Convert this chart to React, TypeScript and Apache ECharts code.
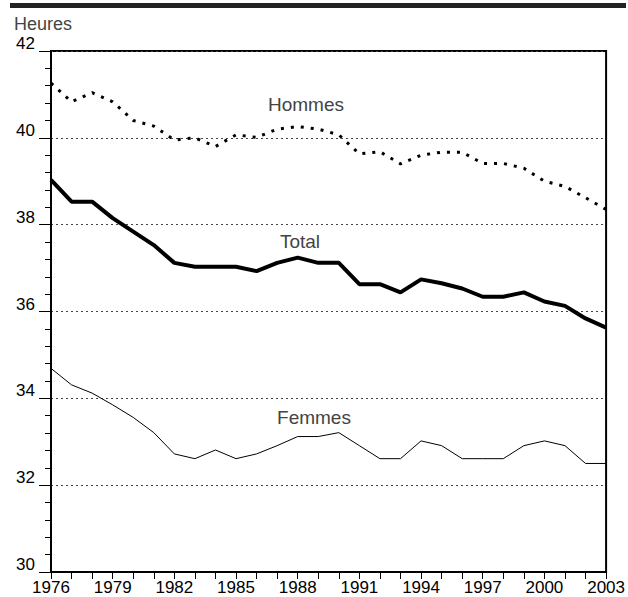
import React, { useEffect, useRef } from "react";
import * as echarts from "echarts";

const years = [
  "1976", "1977", "1978", "1979", "1980", "1981", "1982", "1983", "1984", "1985",
  "1986", "1987", "1988", "1989", "1990", "1991", "1992", "1993", "1994", "1995",
  "1996", "1997", "1998", "1999", "2000", "2001", "2002", "2003",
];

const hommes = [
  41.26, 40.83, 41.04, 40.83, 40.4, 40.27, 39.95, 40.0, 39.8, 40.07,
  40.01, 40.2, 40.26, 40.2, 40.07, 39.63, 39.68, 39.4, 39.6, 39.67,
  39.67, 39.41, 39.41, 39.3, 39.0, 38.88, 38.62, 38.35,
];

const total = [
  39.03, 38.53, 38.53, 38.15, 37.84, 37.53, 37.12, 37.03, 37.03, 37.03,
  36.93, 37.12, 37.24, 37.12, 37.12, 36.63, 36.63, 36.44, 36.74, 36.65,
  36.53, 36.34, 36.34, 36.44, 36.23, 36.13, 35.84, 35.63,
];

const femmes = [
  34.69, 34.31, 34.12, 33.85, 33.56, 33.21, 32.72, 32.61, 32.81, 32.61,
  32.72, 32.91, 33.12, 33.12, 33.21, 32.91, 32.61, 32.61, 33.02, 32.91,
  32.61, 32.61, 32.61, 32.91, 33.02, 32.91, 32.5, 32.5,
];

const yMin = 30;
const yMax = 42;
const yStep = 2;

const FONT = "'Liberation Sans', Arial, sans-serif";

export default function App() {
  const ref = useRef<HTMLDivElement>(null);

  useEffect(() => {
    if (!ref.current) return;
    const chart = echarts.init(ref.current, null, { renderer: "svg" });
    chart.setOption({
      animation: false,
      backgroundColor: "#ffffff",
      grid: {
        left: 51,
        right: 21,
        top: 51,
        bottom: 25,
        show: true,
        borderColor: "#000",
        borderWidth: 2,
        backgroundColor: "transparent",
      },
      xAxis: {
        type: "category",
        data: years,
        boundaryGap: false,
        axisLine: { show: true, lineStyle: { color: "#000", width: 2 } },
        axisTick: {
          show: true,
          interval: 0,
          length: 7,
          inside: false,
          lineStyle: { color: "#000", width: 1 },
        },
        axisLabel: {
          interval: 2,
          margin: 7,
          color: "#000",
          fontSize: 17,
          fontFamily: FONT,
        },
        splitLine: { show: false },
      },
      yAxis: {
        type: "value",
        min: yMin,
        max: yMax,
        interval: yStep,
        axisLine: { show: true, lineStyle: { color: "#000", width: 2 } },
        axisTick: {
          show: true,
          length: 12,
          lineStyle: { color: "#000", width: 1 },
        },
        minorTick: {
          show: true,
          splitNumber: 5,
          length: 6,
          lineStyle: { color: "#000", width: 1 },
        },
        axisLabel: {
          margin: 16,
          color: "#000",
          fontSize: 17,
          lineHeight: 15,
          fontFamily: FONT,
          verticalAlign: "bottom",
        },
        splitLine: {
          show: true,
          lineStyle: { color: "#444", width: 1, type: [2, 3] },
        },
      },
      series: [
        {
          name: "Hommes",
          type: "line",
          data: hommes,
          symbol: "none",
          lineStyle: { color: "#000", width: 3, type: [3, 7] },
        },
        {
          name: "Total",
          type: "line",
          data: total,
          symbol: "none",
          lineStyle: { color: "#000", width: 4 },
        },
        {
          name: "Femmes",
          type: "line",
          data: femmes,
          symbol: "none",
          lineStyle: { color: "#000", width: 1 },
        },
      ],
      graphic: [
        {
          type: "rect",
          shape: { x: 10, y: 3, width: 616, height: 5 },
          style: { fill: "#222" },
        },
        {
          type: "text",
          x: 14,
          y: 24,
          style: {
            text: "Heures",
            fill: "#444",
            font: `18px ${FONT}`,
            textVerticalAlign: "middle",
          },
        },
        {
          type: "text",
          x: 306,
          y: 104,
          style: {
            text: "Hommes",
            fill: "#444",
            font: `19px ${FONT}`,
            textAlign: "center",
            textVerticalAlign: "middle",
          },
        },
        {
          type: "text",
          x: 300,
          y: 241,
          style: {
            text: "Total",
            fill: "#444",
            font: `19px ${FONT}`,
            textAlign: "center",
            textVerticalAlign: "middle",
          },
        },
        {
          type: "text",
          x: 314,
          y: 417,
          style: {
            text: "Femmes",
            fill: "#444",
            font: `19px ${FONT}`,
            textAlign: "center",
            textVerticalAlign: "middle",
          },
        },
      ],
    });
    return () => chart.dispose();
  }, []);

  return (
    <div
      ref={ref}
      style={{ position: "fixed", left: 0, top: 0, width: 628, height: 597 }}
    />
  );
}
